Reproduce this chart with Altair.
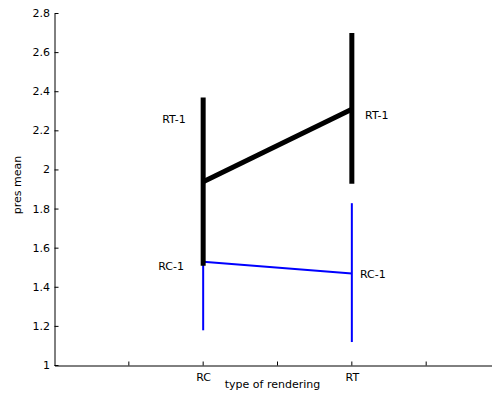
import altair as alt
import pandas as pd

# ---- data ----
categories_x = [1, 2]            # RC, RT positions
rt_mean = [1.94, 2.31]
rt_low = [1.51, 1.93]
rt_high = [2.37, 2.70]
rc_mean = [1.53, 1.47]
rc_low = [1.18, 1.12]
rc_high = [1.88, 1.83]

x_tick_values = [0.5, 1, 1.5, 2, 2.5]
x_tick_labels = ["", "RC", "", "RT", ""]
y_tick_values = [1.0, 1.2, 1.4, 1.6, 1.8, 2.0, 2.2, 2.4, 2.6, 2.8]

label_text = ["RT-1", "RT-1", "RC-1", "RC-1"]
label_x = [0.883, 2.089, 0.871, 2.055]
label_y = [2.253, 2.274, 1.503, 1.464]
label_align = ["right", "left", "right", "left"]

PX_PER_X = 148.67
W, H = 437, 352
X_MAX = W / PX_PER_X
FONT = "DejaVu Sans"

rt = pd.DataFrame({"x": categories_x, "m": rt_mean, "lo": rt_low, "hi": rt_high})
rc = pd.DataFrame({"x": categories_x, "m": rc_mean, "lo": rc_low, "hi": rc_high})
labels = pd.DataFrame({"t": label_text, "x": label_x, "y": label_y, "a": label_align})
xt = pd.DataFrame({"v": x_tick_values})
yt = pd.DataFrame({"v": y_tick_values})

label_expr = " : ".join(
    [f"datum.value == {v} ? '{l}'" for v, l in zip(x_tick_values, x_tick_labels)]
) + " : ''"

xscale = alt.Scale(domain=[0, X_MAX], nice=False, zero=False)
yscale = alt.Scale(domain=[1, 2.8], nice=False, zero=False)

xaxis = alt.Axis(
    values=x_tick_values, labelExpr=label_expr, ticks=False, tickSize=0, grid=False,
    domainColor="black", labelColor="black", labelFont=FONT, labelFontSize=11,
    labelPadding=6, labelOverlap=False, titleFont=FONT,
    titleFontSize=11, titleFontWeight="normal", titleColor="black", titleX=217.5,
    titleY=18.5, titleAlign="center", titleBaseline="middle", labelFlush=False,
)
yaxis = alt.Axis(
    values=y_tick_values, format=".1~f", ticks=False, tickSize=0, grid=False,
    domainColor="black", labelColor="black", labelFont=FONT, labelFontSize=11,
    labelPadding=5, labelOverlap=False, titleFont=FONT,
    titleFontSize=11, titleFontWeight="normal", titleColor="black", titleX=-37,
    titleY=171, titleAlign="center", titleBaseline="middle", titleAngle=270,
    labelFlush=False,
)


def X(f):
    return alt.X(f, scale=xscale, axis=xaxis, title="type of rendering")


def Y(f):
    return alt.Y(f, scale=yscale, axis=yaxis, title="pres mean")


rc_line = alt.Chart(rc).mark_line(color="#0000ff", strokeWidth=2).encode(
    x=X("x:Q"), y=Y("m:Q"))
rc_err = alt.Chart(rc).mark_rule(color="#0000ff", strokeWidth=2).encode(
    x=X("x:Q"), y=Y("lo:Q"), y2="hi:Q")
rt_line = alt.Chart(rt).mark_line(color="black", strokeWidth=5).encode(
    x=X("x:Q"), y=Y("m:Q"))
rt_err = alt.Chart(rt).mark_rule(color="black", strokeWidth=5, strokeCap="butt").encode(
    x=X("x:Q"), y=Y("lo:Q"), y2="hi:Q")

txt_left = alt.Chart(labels).transform_filter("datum.a == 'right'").mark_text(
    align="right", baseline="middle", font=FONT, fontSize=11, color="black").encode(
    x=X("x:Q"), y=Y("y:Q"), text="t:N")
txt_right = alt.Chart(labels).transform_filter("datum.a == 'left'").mark_text(
    align="left", baseline="middle", font=FONT, fontSize=11, color="black").encode(
    x=X("x:Q"), y=Y("y:Q"), text="t:N")

xticks = alt.Chart(xt).mark_rule(color="black", strokeWidth=1).encode(
    x=X("v:Q"), y=alt.value(H), y2=alt.value(H - 4))
yticks = alt.Chart(yt).mark_rule(color="black", strokeWidth=1).encode(
    y=Y("v:Q"), x=alt.value(0), x2=alt.value(4))

chart = alt.layer(rc_line, rc_err, rt_line, rt_err, txt_left, txt_right, xticks, yticks).properties(
    width=W, height=H,
    autosize=alt.AutoSizeParams(type="none"),
    padding={"left": 46.5, "top": 5.5, "right": 0, "bottom": 26},
    background="white",
).configure_view(stroke=None).configure_axis(labelOverlap=False)

chart.save("out.html", embed_options={"renderer": "svg", "actions": False})
